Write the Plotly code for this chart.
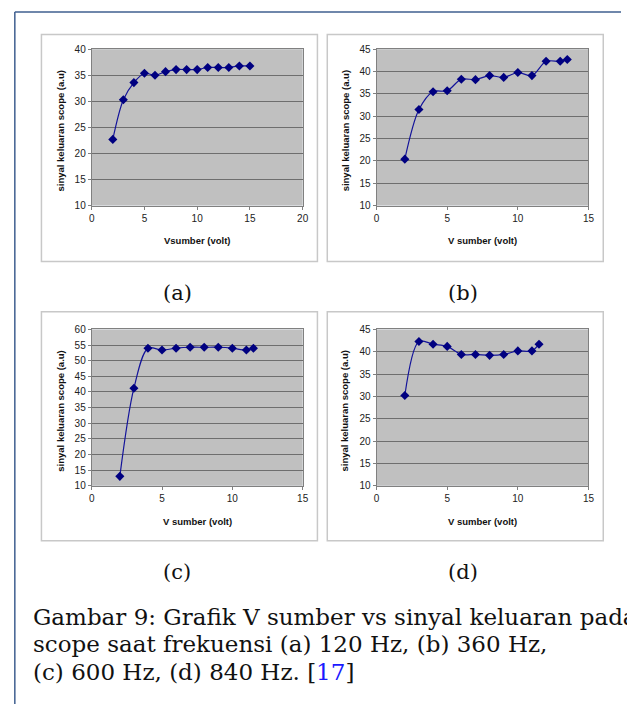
import plotly.graph_objects as go

W, H = 627, 710

# ---- data ----
xa = [2, 3, 4, 5, 6, 7, 8, 9, 10, 11, 12, 13, 14, 15]
ya = [22.7, 30.3, 33.6, 35.4, 35.0, 35.7, 36.1, 36.1, 36.1, 36.5, 36.5, 36.5, 36.8, 36.8]

xb = [2, 3, 4, 5, 6, 7, 8, 9, 10, 11, 12, 13, 13.5]
yb = [20.4, 31.5, 35.5, 35.7, 38.3, 38.2, 39.1, 38.7, 39.8, 39.1, 42.3, 42.3, 42.7]

xc = [2, 3, 4, 5, 6, 7, 8, 9, 10, 11, 11.5]
yc = [13.0, 41.2, 54.0, 53.4, 54.0, 54.3, 54.3, 54.3, 54.0, 53.4, 54.0]

xd = [2, 3, 4, 5, 6, 7, 8, 9, 10, 11, 11.5]
yd = [30.2, 42.3, 41.7, 41.2, 39.4, 39.4, 39.2, 39.4, 40.2, 40.2, 41.7]

x_titles = ["Vsumber (volt)", "V sumber (volt)", "V sumber (volt)", "V sumber (volt)"]
y_title = "sinyal keluaran scope (a.u)"
sub_labels = ["(a)", "(b)", "(c)", "(d)"]
x_ranges = [[0, 20], [0, 15], [0, 15], [0, 15]]
y_ranges = [[10, 40], [10, 45], [10, 60], [10, 45]]
caption_lines = [
    "Gambar 9: Grafik V sumber vs sinyal keluaran pada",
    "scope saat frekuensi (a) 120 Hz, (b) 360 Hz,",
    "(c) 600 Hz, (d) 840 Hz. [<span style='color:#1a1aff'>17</span>]",
]

series = [(xa, ya), (xb, yb), (xc, yc), (xd, yd)]

# ---- layout geometry (pixels) ----
plots = [(90, 304, 44, 203), (379, 594, 44, 203), (90, 304, 329, 488), (379, 594, 329, 488)]
boxes = [(39, 319, 29, 260), (329, 609, 29, 260), (39, 319, 311, 544), (329, 609, 311, 544)]

def px(x):
    return x / W

def py(y):
    return 1 - y / H

fig = go.Figure()
SANS = "Liberation Sans, Arial, sans-serif"
SERIF = "DejaVu Serif, serif"
NAVY = "#000080"

layout = dict(
    width=W, height=H,
    margin=dict(l=0, r=0, t=0, b=0),
    paper_bgcolor="white",
    showlegend=False,
)

shapes = []
annotations = []

for i, ((x, y), (x0, x1, y0, y1)) in enumerate(zip(series, plots)):
    n = "" if i == 0 else str(i + 1)
    fig.add_trace(go.Scatter(
        x=x, y=y, mode="lines+markers",
        line=dict(color="#14149a", width=1.2, shape="spline", smoothing=0.9),
        marker=dict(symbol="diamond", size=7, color=NAVY),
        xaxis="x" + n, yaxis="y" + n,
    ))
    layout["xaxis" + n] = dict(
        domain=[px(x0), px(x1)], anchor="y" + n, range=x_ranges[i], dtick=5,
        showgrid=False, zeroline=False, showline=True, mirror=True,
        linecolor="#808080", linewidth=1,
        ticks="outside", ticklen=3, tickcolor="#808080",
        tickfont=dict(family=SANS, size=10, color="#222222"),
        fixedrange=True,
    )
    layout["yaxis" + n] = dict(
        domain=[py(y1), py(y0)], anchor="x" + n, range=y_ranges[i], dtick=5,
        showgrid=True, gridcolor="#6e6e6e", gridwidth=1, zeroline=False,
        showline=True, mirror=True, linecolor="#808080", linewidth=1,
        ticks="outside", ticklen=3, tickcolor="#808080",
        tickfont=dict(family=SANS, size=10, color="#222222"),
        fixedrange=True,
    )
    shapes.append(dict(type="rect", xref="x" + n + " domain", yref="y" + n + " domain",
                       x0=0, x1=1, y0=0, y1=1, fillcolor="#c0c0c0",
                       line=dict(width=0), layer="below"))
    annotations.append(dict(text="<b>" + x_titles[i] + "</b>", xref="paper", yref="paper",
                            x=px((x0 + x1) / 2), y=py(y1 + 36), showarrow=False,
                            font=dict(family=SANS, size=9.5, color="#111111"),
                            xanchor="center", yanchor="middle"))
    annotations.append(dict(text="<b>" + y_title + "</b>", xref="paper", yref="paper",
                            x=px(x0 - 32), y=py((y0 + y1) / 2 + 4), showarrow=False,
                            textangle=-90,
                            font=dict(family=SANS, size=9.5, color="#111111"),
                            xanchor="center", yanchor="middle"))

for i, (bx0, bx1, by0, by1) in enumerate(boxes):
    shapes.append(dict(type="rect", xref="paper", yref="paper",
                       x0=px(bx0), x1=px(bx1), y0=py(by1), y1=py(by0),
                       line=dict(color="#c8c8c8", width=1.5), layer="below"))
    annotations.append(dict(text=sub_labels[i], xref="paper", yref="paper",
                            x=px((bx0 + bx1) / 2 - 2), y=py(by1 + 32), showarrow=False,
                            font=dict(family=SERIF, size=21, color="#111111"),
                            xanchor="center", yanchor="middle"))

shapes.append(dict(type="line", xref="paper", yref="paper",
                   x0=px(12), x1=px(12), y0=0, y1=py(6),
                   line=dict(color="#3f5f8f", width=1.5)))
shapes.append(dict(type="line", xref="paper", yref="paper",
                   x0=px(12), x1=1, y0=py(6), y1=py(6),
                   line=dict(color="#3f5f8f", width=1.5)))

for k, line in enumerate(caption_lines):
    annotations.append(dict(text=line, xref="paper", yref="paper",
                            x=px(28), y=py(621 + 28 * k), showarrow=False,
                            font=dict(family=SERIF, size=23, color="#111111"),
                            xanchor="left", yanchor="middle"))

layout["shapes"] = shapes
layout["annotations"] = annotations
fig.update_layout(**layout)
fig.write_html("out.html", config={"displayModeBar": False},
               post_script="document.body.style.margin='0';document.body.style.overflow='hidden';")
